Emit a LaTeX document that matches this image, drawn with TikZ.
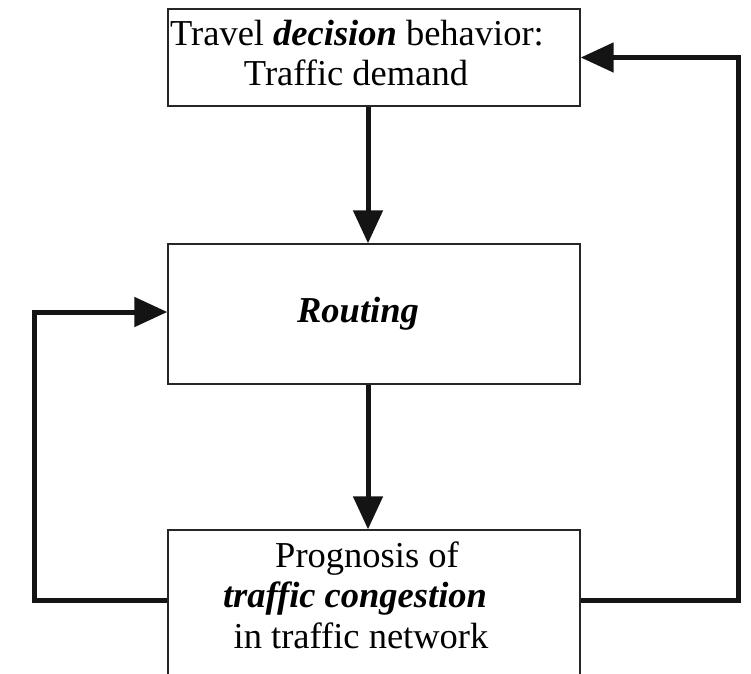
\documentclass[tikz,border=0pt]{standalone}
\usepackage{fontspec}
\setmainfont{Liberation Serif}
\usetikzlibrary{arrows.meta}
\begin{document}
\begin{tikzpicture}[x=1pt,y=1pt,
  box/.style={draw=black!85,line width=1.4pt,inner sep=0pt},
  conn/.style={draw=black!92,line width=5pt,-{Triangle[length=33pt,width=29pt]}},
  lbl/.style={inner sep=0pt,anchor=base,font=\fontsize{36.5}{40}\selectfont}]
\useasboundingbox (0,0) rectangle (751,-673);
\clip (0,0) rectangle (751,-673);
\fill[white] (0,0) rectangle (751,-673);
% boxes
\node[box,minimum width=412pt,minimum height=97pt] (top) at (374,-57.5) {};
\node[box,minimum width=412pt,minimum height=140pt] (mid) at (374,-314) {};
\node[box,minimum width=412pt,minimum height=170pt] (bot) at (374,-615) {};
% texts
\node[lbl] (t1) at (357,-45) {Travel \textbf{\textit{decision}} behavior:};
\node[lbl] (t2) at (356,-85) {Traffic demand};
\node[lbl] (r1) at (358,-322) {\textbf{\textit{Routing}}};
\node[lbl] (b1) at (367,-567) {Prognosis of};
\node[lbl] (b2) at (355,-607) {\textbf{\textit{traffic congestion}}};
\node[lbl] (b3) at (361,-648) {in traffic network};
% connectors
\coordinate (lc) at (34,-600);
\coordinate (rc) at (738,-600);
\draw[conn] ([xshift=-6pt]top.south) -- ([xshift=-6pt]mid.north);
\draw[conn] ([xshift=-6pt]mid.south) -- ([xshift=-6pt]bot.north);
\draw[conn] ([yshift=15pt]bot.west) -- (lc) |- ([yshift=2pt]mid.west);
\draw[conn] ([yshift=15pt]bot.east) -- (rc) |- (top.east);
\end{tikzpicture}
\end{document}
